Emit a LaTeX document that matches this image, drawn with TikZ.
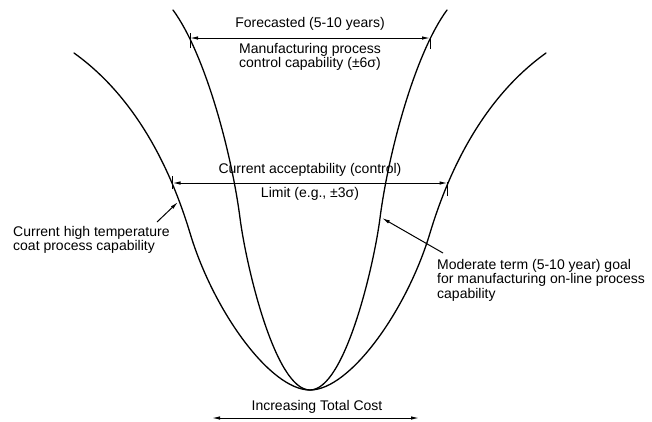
\documentclass[tikz,border=0pt]{standalone}
\usepackage{fontspec}
\setmainfont{Liberation Sans}
\usetikzlibrary{arrows.meta}
\begin{document}
\begin{tikzpicture}[x=1pt,y=-1pt,
  curve/.style={line width=1.3pt, line cap=round},
  dim/.style={line width=1pt, {Latex[length=8pt,width=3.5pt]}-{Latex[length=8pt,width=3.5pt]}},
  ptr/.style={line width=1pt, -{Latex[length=8pt,width=3.5pt]}},
  tick/.style={line width=0.8pt},
  lbl/.style={inner sep=0pt, font=\fontsize{14}{14.5}\selectfont}
]
\useasboundingbox (0,0) rectangle (652,421);
% inner curve
\draw[curve] (173,10) .. controls (204,52) and (231,149) .. (240,218)
  .. controls (246,265) and (275,390) .. (310,390)
  .. controls (345,390) and (374,265) .. (380,218)
  .. controls (389,149) and (416,52) .. (447,10);
% outer curve
\draw[curve] (74,53) .. controls (123,88) and (164,147) .. (190,233)
  .. controls (213,310) and (270,390) .. (310,390)
  .. controls (350,390) and (407,310) .. (430,233)
  .. controls (456,147) and (497,88) .. (546,53);

% named points on curves
\coordinate (fL) at (190,38);
\coordinate (fR) at (430,38);
\coordinate (cL) at (172.5,183);
\coordinate (cR) at (447.5,183);
\coordinate (pL) at (178,202);
\coordinate (pR) at (382,218);
\coordinate (bL) at (212,418);
\coordinate (bR) at (419,418);

% ticks
\draw[tick] ([yshift=-10pt]fL) -- ([yshift=5pt]fL);
\draw[tick] ([yshift=-11pt]fR) -- ([yshift=1pt]fR);
\draw[tick] ([yshift=-6pt]cL) -- ([yshift=7pt]cL);
\draw[tick] ([yshift=-13pt]cR) -- ([yshift=1pt]cR);

% dimension arrows
\draw[dim] (fL) -- (fR);
\draw[dim] (cL) -- (cR);
\draw[dim] (bL) -- (bR);

% texts
\node[lbl] (fore) at (310,24) {Forecasted (5-10 years)};
\node[lbl, align=center] (mfg) at (310,57) {Manufacturing process\\control capability (±6σ)};
\node[lbl] (acc) at (310,170) {Current acceptability (control)};
\node[lbl] (lim) at (310,194) {Limit (e.g., ±3σ)};
\node[lbl, align=left, anchor=west] (hiT) at (13,240) {Current high temperature\\coat process capability};
\node[lbl, align=left, anchor=west] (mod) at (437,280) {Moderate term (5-10 year) goal\\for manufacturing on-line process\\capability};
\node[lbl] (cost) at (317,407) {Increasing Total Cost};

% pointers
\coordinate (hiTs) at (157,222);
\coordinate (mods) at (443,253);
\draw[ptr] (hiTs) -- (pL);
\draw[ptr] (mods) -- (pR);
\end{tikzpicture}
\end{document}
